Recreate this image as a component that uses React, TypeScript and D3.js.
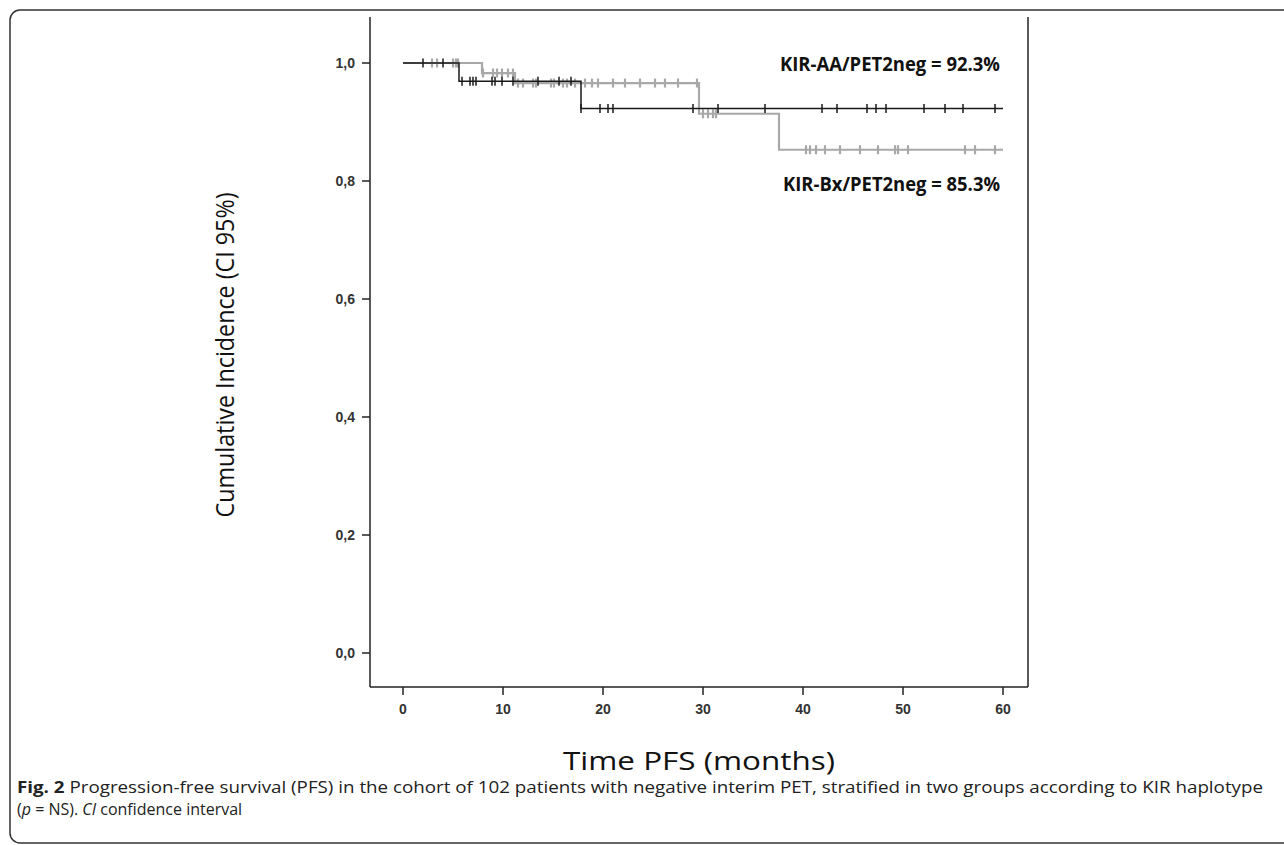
import React from "react";
import * as d3 from "d3";

// months on x, cumulative incidence on y
const monthTicks = [0, 10, 20, 30, 40, 50, 60];
const incidenceTicks = [0, 0.2, 0.4, 0.6, 0.8, 1.0];

// KIR-AA/PET2neg (black)
const aaStepTimes = [0, 5.6, 17.8, 60];
const aaStepValues = [1, 0.969, 0.923, 0.923];
const aaCensored = [2.0, 4.0, 5.9, 6.7, 7.0, 7.3, 8.9, 9.2, 9.9, 11.0, 13.5, 15.6, 16.8, 17.8,
  19.7, 20.5, 21.0, 29.0, 31.5, 36.2, 41.9, 43.4, 46.4, 47.3, 48.3, 52.1, 54.2, 56.0, 59.2];

// KIR-Bx/PET2neg (grey)
const bxStepTimes = [0, 7.9, 11.2, 29.6, 37.6, 60];
const bxStepValues = [1, 0.983, 0.966, 0.914, 0.853, 0.853];
const bxCensored = [2.9, 3.4, 5.0, 5.3, 5.5, 8.0, 9.0, 9.4, 9.9, 10.5, 11.0, 11.5, 12.0, 13.0, 13.3,
  14.8, 15.1, 16.0, 16.4, 17.2, 18.2, 18.9, 19.5, 21.0, 22.2, 23.7, 25.2, 26.2, 27.5,
  29.4, 30.0, 30.5, 31.0, 31.3, 40.3, 40.7, 41.3, 42.2, 43.7, 45.7, 47.5, 49.2, 49.5, 50.5,
  56.2, 57.2, 59.2];

const groupLabels = ["KIR-AA/PET2neg = 92.3%", "KIR-Bx/PET2neg = 85.3%"];

const W = 1284, H = 845;
const x = d3.scaleLinear().domain([0, 60]).range([403, 1003]);
const y = d3.scaleLinear().domain([0, 1]).range([653, 63]);

// step value at time t
function valueAt(times: number[], values: number[], t: number) {
  let v = values[0];
  for (let i = 0; i < times.length; i++) if (times[i] <= t) v = values[i];
  return v;
}

function curvePath(times: number[], values: number[]) {
  const line = d3.line<number>()
    .x((d, i) => x(times[i]))
    .y((d) => y(d))
    .curve(d3.curveStepAfter);
  return line(values) || "";
}

function Series({ times, values, censored, color, width }: any) {
  return (
    <g>
      <path d={curvePath(times, values)} fill="none" stroke={color} strokeWidth={width} />
      {censored.map((t: number, i: number) => {
        const v = valueAt(times, values, t);
        return (
          <line key={i} x1={x(t)} x2={x(t)} y1={y(v) - 4.5} y2={y(v) + 4.5}
            stroke={color} strokeWidth={width} />
        );
      })}
    </g>
  );
}

export default function App() {
  const fmt = (d: number) => d3.format(".1f")(d).replace(".", ",");
  const tickFont = "Liberation Sans, Arial, sans-serif";
  return (
    <svg width={W} height={H} style={{ position: "absolute", left: 0, top: 0, display: "block", background: "#fff" }}>
      {/* figure frame */}
      <rect x={10} y={10} width={1300} height={833} rx={10} fill="none" stroke="#333" strokeWidth={1.5} />

      {/* plot box */}
      <line x1={370} x2={370} y1={17} y2={687} stroke="#222" strokeWidth={1.5} />
      <line x1={370} x2={1028} y1={687} y2={687} stroke="#222" strokeWidth={1.5} />
      <line x1={1028} x2={1028} y1={17} y2={687} stroke="#222" strokeWidth={1.5} />

      {/* y axis */}
      {incidenceTicks.map((t) => (
        <g key={t}>
          <line x1={362} x2={370} y1={y(t)} y2={y(t)} stroke="#222" strokeWidth={1.5} />
          <text x={355} y={y(t)} dy="0.36em" textAnchor="end" fontFamily={tickFont}
            fontSize={14} fontWeight={600} fill="#333">{fmt(t)}</text>
        </g>
      ))}
      {/* x axis */}
      {monthTicks.map((t) => (
        <g key={t}>
          <line x1={x(t)} x2={x(t)} y1={687} y2={695} stroke="#222" strokeWidth={1.5} />
          <text x={x(t)} y={714} textAnchor="middle" fontFamily={tickFont}
            fontSize={14} fontWeight={600} fill="#333">{t}</text>
        </g>
      ))}

      {/* curves */}
      <Series times={bxStepTimes} values={bxStepValues} censored={bxCensored} color="#a8a8a8" width={2.2} />
      <Series times={aaStepTimes} values={aaStepValues} censored={aaCensored} color="#1a1a1a" width={1.5} />

      {/* group labels */}
      <text x={1000} y={71} textAnchor="end" fontFamily="Open Sans, sans-serif" fontWeight="bold"
        fontSize={20} fill="#111" textLength={220} lengthAdjust="spacingAndGlyphs">{groupLabels[0]}</text>
      <text x={1000} y={191} textAnchor="end" fontFamily="Open Sans, sans-serif" fontWeight="bold"
        fontSize={20} fill="#111" textLength={217} lengthAdjust="spacingAndGlyphs">{groupLabels[1]}</text>

      {/* axis titles */}
      <text transform="translate(234,355) rotate(-90)" textAnchor="middle" fontFamily="Open Sans, sans-serif"
        fontSize={26} fill="#111" textLength={325} lengthAdjust="spacingAndGlyphs">Cumulative Incidence (CI 95%)</text>
      <text x={699} y={770} textAnchor="middle" fontFamily="Open Sans, sans-serif"
        fontSize={26} fill="#111" textLength={272} lengthAdjust="spacingAndGlyphs">Time PFS (months)</text>

      {/* caption */}
      <text x={17} y={793} fontFamily="Open Sans, sans-serif" fontSize={16} fill="#222"
        textLength={1246} lengthAdjust="spacingAndGlyphs">
        <tspan fontWeight="bold">Fig. 2</tspan> Progression-free survival (PFS) in the cohort of 102 patients with negative interim PET, stratified in two groups according to KIR haplotype
      </text>
      <text x={17} y={815} fontFamily="Open Sans, sans-serif" fontSize={16} fill="#222">
        (<tspan fontStyle="italic">p</tspan> = NS). <tspan fontStyle="italic">CI</tspan> confidence interval
      </text>
    </svg>
  );
}
